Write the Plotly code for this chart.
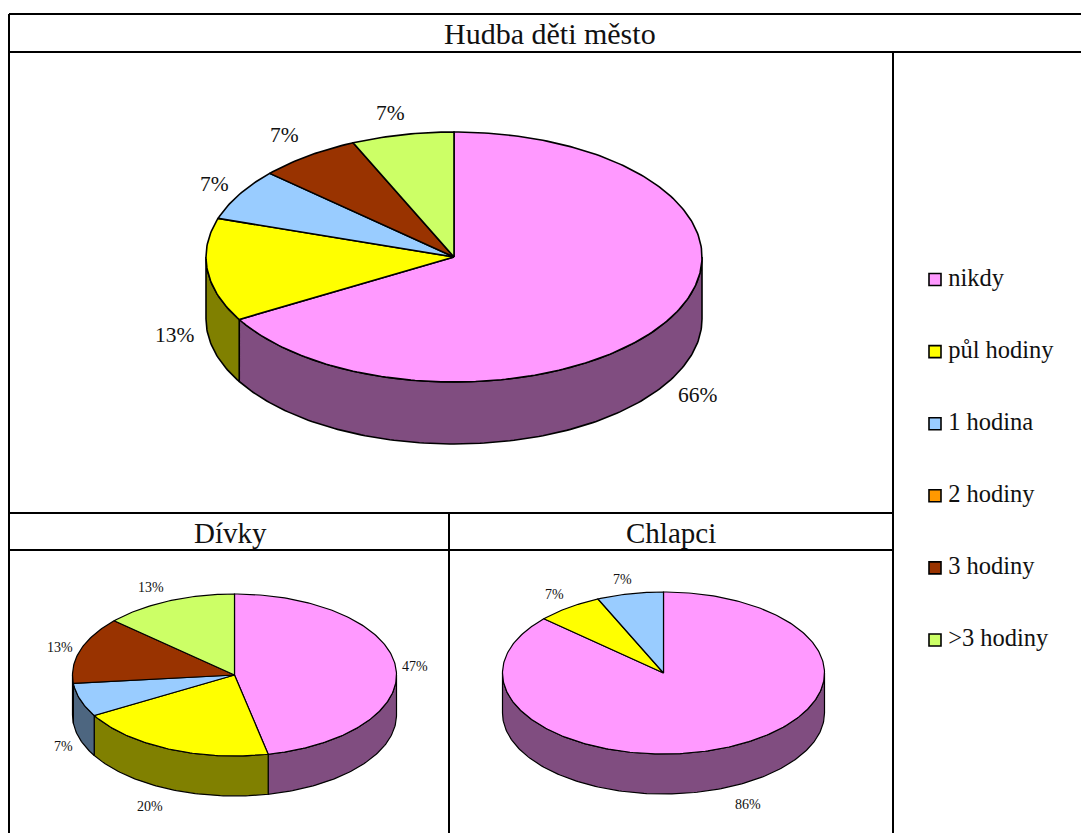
import numpy as np
import plotly.graph_objects as go

# ---------- data ----------
categories = ["nikdy", "půl hodiny", "1 hodina", "2 hodiny", "3 hodiny", ">3 hodiny"]
mesto_counts = [10, 2, 1, 0, 1, 1]
divky_counts = [7, 3, 1, 0, 2, 2]
chlapci_counts = [13, 1, 1, 0, 0, 0]
mesto_labels = ["66%", "13%", "7%", "", "7%", "7%"]
divky_labels = ["47%", "20%", "7%", "", "13%", "13%"]
chlapci_labels = ["86%", "7%", "7%", "", "", ""]

# ---------- style and layout ----------
W, H = 1081, 833
FONT = "Liberation Serif"
top_colors = ["#FF99FF", "#FFFF00", "#99CCFF", "#FF9900", "#993300", "#CCFF66"]
wall_colors = ["#804D80", "#808000", "#4D6680", "#804D00", "#4D1A00", "#668033"]

pies = [
    dict(counts=mesto_counts, labels=mesto_labels, cx=454, cy=257, rx=248, ry=125, depth=62,
         lw=1.6, size=21.5,
         pos=[(698, 395), (175, 335), (214, 184), None, (284, 135), (390, 113)]),
    dict(counts=divky_counts, labels=divky_labels, cx=234.5, cy=675, rx=162, ry=81, depth=40,
         lw=1.2, size=14,
         pos=[(415, 666), (150, 806), (63, 746), None, (60, 647), (151, 587)]),
    dict(counts=chlapci_counts, labels=chlapci_labels, cx=663.5, cy=673, rx=161, ry=81, depth=40,
         lw=1.2, size=14,
         pos=[(748, 804), (554, 594), (622, 579), None, None, None]),
]


def arc(p, a0, a1, drop=0.0):
    n = max(2, int(abs(a1 - a0)) + 1)
    t = np.radians(np.linspace(a0, a1, n))
    return p["cx"] + p["rx"] * np.sin(t), p["cy"] + drop - p["ry"] * np.cos(t)


fig = go.Figure()
annotations = []

for p in pies:
    total = sum(p["counts"])
    edges = np.cumsum([0] + p["counts"]) / total * 360.0
    # side walls
    for i, cat in enumerate(categories):
        a0, a1 = max(edges[i], 90.0), min(edges[i + 1], 270.0)
        if p["counts"][i] == 0 or a1 <= a0:
            continue
        xt, yt = arc(p, a0, a1)
        xb, yb = arc(p, a1, a0, p["depth"])
        fig.add_trace(go.Scatter(
            x=np.r_[xt, xb, xt[0]], y=np.r_[yt, yb, yt[0]], mode="lines", fill="toself",
            fillcolor=wall_colors[i], line=dict(color="black", width=p["lw"]), name=cat,
            showlegend=False, hoverinfo="skip"))
    # top faces
    for i, cat in enumerate(categories):
        if p["counts"][i] == 0:
            continue
        xt, yt = arc(p, edges[i], edges[i + 1])
        fig.add_trace(go.Scatter(
            x=np.r_[p["cx"], xt, p["cx"]], y=np.r_[p["cy"], yt, p["cy"]], mode="lines", fill="toself",
            fillcolor=top_colors[i], line=dict(color="black", width=p["lw"]), name=cat,
            showlegend=False, hoverinfo="skip"))
    # percentage labels
    for lab, pos in zip(p["labels"], p["pos"]):
        if lab and pos:
            annotations.append(dict(x=pos[0], y=pos[1], xref="x", yref="y", text=lab, showarrow=False,
                                    xanchor="center", yanchor="middle",
                                    font=dict(family=FONT, size=p["size"], color="#111111")))

# legend column on its own category axis: swatches, then names
fig.add_trace(go.Scatter(
    x=[0] * len(categories), y=categories, xaxis="x2", yaxis="y2", mode="markers", cliponaxis=False,
    marker=dict(symbol="square", size=12, color=top_colors, line=dict(color="black", width=1.6)),
    showlegend=False, hoverinfo="skip"))
fig.add_trace(go.Scatter(
    x=[0.09] * len(categories), y=categories, xaxis="x2", yaxis="y2", mode="text",
    text=categories, textposition="middle right", cliponaxis=False,
    textfont=dict(family=FONT, size=24.5, color="#111111"),
    showlegend=False, hoverinfo="skip"))

# titles
for txt, x, y, s in [("Hudba děti město", 550, 33, 30), ("Dívky", 230, 533, 29), ("Chlapci", 671, 533, 29)]:
    annotations.append(dict(x=x, y=y, xref="x", yref="y", text=txt, showarrow=False,
                            xanchor="center", yanchor="middle",
                            font=dict(family=FONT, size=s, color="#111111")))

# table rules
rules = [(9, 14, W, 14), (9, 52, W, 52), (9, 513, 893, 513), (9, 550, 893, 550),
         (9, 14, 9, H), (893, 52, 893, H), (449, 513, 449, H)]
shapes = [dict(type="line", xref="x", yref="y", x0=a, y0=b, x1=c, y1=d,
               line=dict(color="black", width=2), layer="above") for a, b, c, d in rules]

hidden = dict(visible=False, showgrid=False, zeroline=False)
fig.update_layout(
    width=W, height=H, margin=dict(l=0, r=0, t=0, b=0), autosize=False,
    paper_bgcolor="white", plot_bgcolor="rgba(0,0,0,0)", showlegend=False,
    xaxis=dict(range=[0, W], domain=[0, 1], **hidden),
    yaxis=dict(range=[H, 0], domain=[0, 1], **hidden),
    xaxis2=dict(range=[0, 1], domain=[935 / W, 1], anchor="y2", **hidden),
    yaxis2=dict(type="category", categoryorder="array", categoryarray=categories, range=[5.5, -0.5],
                domain=[1 - 676.05 / H, 1 - 243.45 / H], anchor="x2", **hidden),
    annotations=annotations, shapes=shapes,
)

fig.write_html("out.html", config={"displayModeBar": False},
               post_script="document.body.style.margin='0';")
